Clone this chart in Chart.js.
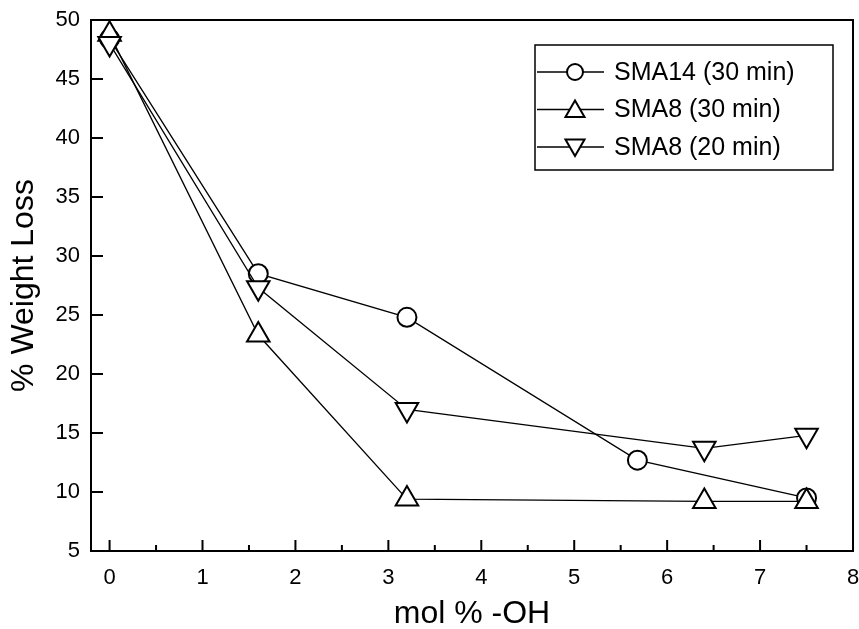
<!DOCTYPE html>
<html>
<head>
<meta charset="utf-8">
<script src="https://cdn.jsdelivr.net/npm/chart.js@4/dist/chart.umd.min.js"></script>
<style>
  html, body { margin: 0; padding: 0; background: #fff; overflow: hidden; }
  /* a bit wider than the window: Chart.js keeps ~15px spare on the right */
  #wrap { width: 868px; height: 629px; position: relative; }
</style>
</head>
<body>
<div id="wrap"><canvas id="chart-1"></canvas></div>
<script>
const seriesLabels = ["SMA14 (30 min)", "SMA8 (30 min)", "SMA8 (20 min)"];

const sma14_30_x = [0, 1.6, 3.2, 5.68, 7.5];
const sma14_30_y = [48.4, 28.5, 24.8, 12.7, 9.5];

const sma8_30_x = [0, 1.6, 3.2, 6.4, 7.5];
const sma8_30_y = [48.8, 23.3, 9.4, 9.2, 9.2];

const sma8_20_x = [0, 1.6, 3.2, 6.4, 7.5];
const sma8_20_y = [48.0, 27.3, 17.0, 13.7, 14.8];

const xTicks = [0, 1, 2, 3, 4, 5, 6, 7, 8];
const yTicks = [5, 10, 15, 20, 25, 30, 35, 40, 45, 50];

const FONT = "'Liberation Sans', Arial, sans-serif";

function toPoints(xs, ys) {
	let pts = [];
	for (let i = 0; i < xs.length; i++) {
		pts.push({ x: xs[i], y: ys[i] });
	}
	return pts;
}

function makeDataset(label, xs, ys, style, rot, radius, order) {
	return {
		label: label,
		data: toPoints(xs, ys),
		order: order,
		borderColor: "#000",
		borderWidth: 1.3,
		backgroundColor: "#fff",
		pointStyle: style,
		rotation: rot,
		pointRadius: radius,
		pointBorderWidth: 2,
		pointBackgroundColor: "#fff",
		pointBorderColor: "#000",
		tension: 0,
	};
}

const noPad = () => ({ left: 0, right: 0, top: 0, bottom: 0 });

// inward ticks + box frame
const frameTicks = {
	id: "frameTicks",
	afterDraw(chart) {
		const ctx = chart.ctx;
		const a = chart.chartArea;
		const xs = chart.scales.x;
		const ys = chart.scales.y;
		ctx.save();
		ctx.strokeStyle = "#000";
		ctx.lineWidth = 2;
		ctx.strokeRect(a.left, a.top, a.right - a.left, a.bottom - a.top);
		ctx.beginPath();
		for (let v = 0; v <= 8; v += 0.5) {
			const px = xs.getPixelForValue(v);
			const len = Number.isInteger(v) ? 11 : 6;
			if (px < a.right - 1) {
				ctx.moveTo(px, a.bottom);
				ctx.lineTo(px, a.bottom - len);
			}
		}
		yTicks.forEach((v) => {
			const py = ys.getPixelForValue(v);
			if (py > a.top + 1 && py < a.bottom - 1) {
				ctx.moveTo(a.left, py);
				ctx.lineTo(a.left + 12, py);
			}
		});
		ctx.stroke();
		ctx.restore();
	},
};

// legend box like the original (line - marker - line, then text)
const boxLegend = {
	id: "boxLegend",
	afterDraw(chart) {
		const ctx = chart.ctx;
		const a = chart.chartArea;
		const left = a.right - 318;
		const top = a.top + 25;
		const w = 298;
		const h = 125;
		ctx.save();
		ctx.fillStyle = "#fff";
		ctx.fillRect(left, top, w, h);
		ctx.strokeStyle = "#000";
		ctx.lineWidth = 1.5;
		ctx.strokeRect(left, top, w, h);
		const sizes = [8, 11, 11];
		chart.data.datasets.forEach((ds, i) => {
			const y = top + 27 + i * 37.5;
			ctx.strokeStyle = "#000";
			ctx.lineWidth = 1.3;
			ctx.beginPath();
			ctx.moveTo(left + 2, y);
			ctx.lineTo(left + 69, y);
			ctx.stroke();
			ctx.fillStyle = "#fff";
			ctx.lineWidth = 2;
			Chart.helpers.drawPoint(ctx, {
				pointStyle: ds.pointStyle,
				rotation: ds.rotation,
				radius: sizes[i],
				borderWidth: 2,
			}, left + 40, y + (i == 1 ? 2 : (i == 2 ? -2 : 0)));
			ctx.fillStyle = "#000";
			ctx.font = "25px " + FONT;
			ctx.textBaseline = "middle";
			ctx.textAlign = "left";
			ctx.fillText(ds.label, left + 79, y + 1);
		});
		ctx.restore();
	},
};

const config_1 = {
	type: "line",
	data: {
		datasets: [
			makeDataset(seriesLabels[0], sma14_30_x, sma14_30_y, "circle", 0, 9.5, 3),
			makeDataset(seriesLabels[1], sma8_30_x, sma8_30_y, "triangle", 0, 13, 2),
			makeDataset(seriesLabels[2], sma8_20_x, sma8_20_y, "triangle", 180, 13, 1),
		],
	},
	options: {
		responsive: true,
		maintainAspectRatio: false,
		animation: false,
		layout: { padding: { top: 20, right: 0, left: 0, bottom: 0 } },
		plugins: {
			legend: { display: false },
			tooltip: { enabled: false },
		},
		scales: {
			x: {
				type: "linear",
				min: -0.2,
				max: 8,
				afterBuildTicks: (scale) => {
					scale.ticks = xTicks.map((v) => ({ value: v }));
				},
				afterFit: (scale) => {
					scale.height = 78;
					scale.paddingLeft = 0;
					scale.paddingRight = 0;
					scale.getPadding = noPad;
				},
				grid: { display: false, drawTicks: false },
				border: { display: false },
				ticks: {
					color: "#000",
					padding: 14,
					maxRotation: 0,
					font: { family: FONT, size: 22 },
				},
				title: {
					display: true,
					text: "mol % -OH",
					color: "#000",
					padding: { top: 0, bottom: -1 },
					font: { family: FONT, size: 32, lineHeight: 1 },
				},
			},
			y: {
				type: "linear",
				min: 5,
				max: 50,
				afterBuildTicks: (scale) => {
					scale.ticks = yTicks.map((v) => ({ value: v }));
				},
				afterFit: (scale) => {
					scale.width = 91;
					scale.paddingTop = 0;
					scale.paddingBottom = 0;
					scale.getPadding = noPad;
				},
				grid: { display: false, drawTicks: false },
				border: { display: false },
				ticks: {
					color: "#000",
					padding: 11,
					font: { family: FONT, size: 22 },
				},
				title: {
					display: true,
					text: "% Weight Loss",
					color: "#000",
					padding: { top: 5, bottom: 0 },
					font: { family: FONT, size: 32 },
				},
			},
		},
	},
	plugins: [frameTicks, boxLegend],
};

new Chart(document.getElementById("chart-1"), config_1);
</script>
</body>
</html>
